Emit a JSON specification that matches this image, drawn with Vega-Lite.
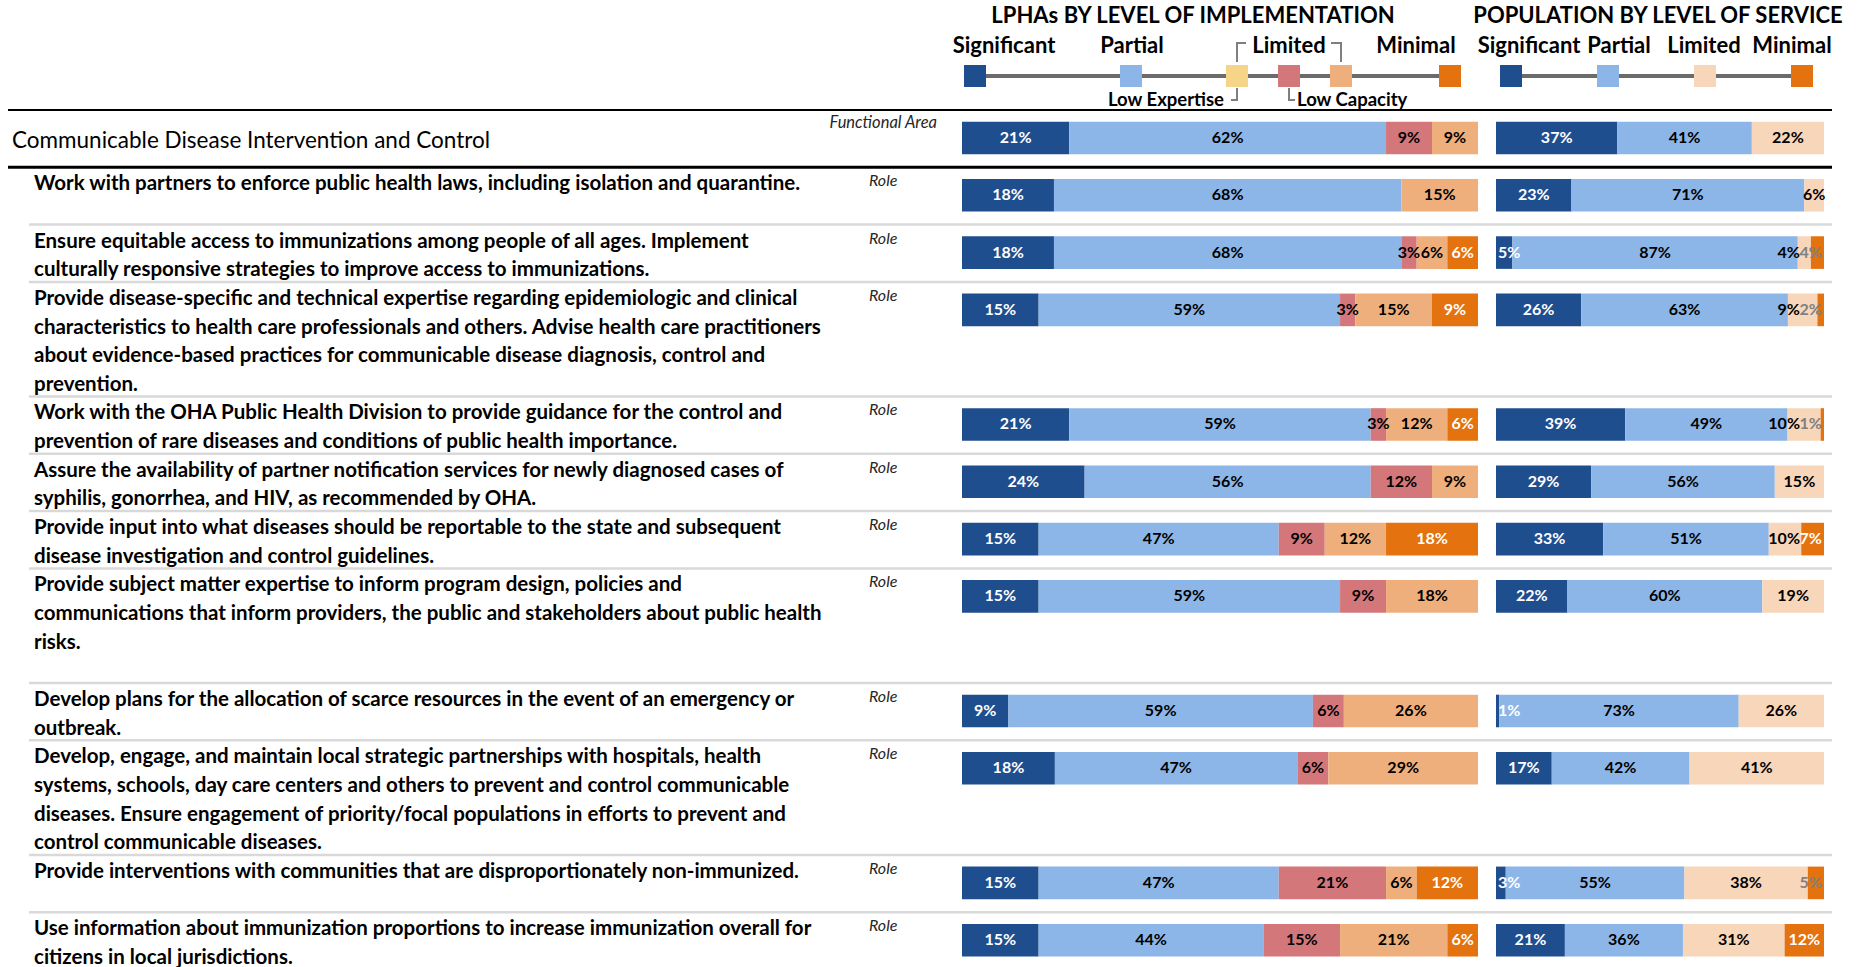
{
  "$schema": "https://vega.github.io/schema/vega-lite/v6.json",
  "width": 1862,
  "height": 967,
  "autosize": "none",
  "padding": 0,
  "background": "white",
  "config": {"view": {"stroke": null}, "font": "Lato", "text": {"font": "Lato"}},
  "datasets": {
    "rows": [
      {"id": 0, "label": ["Communicable Disease Intervention and Control"], "lpha": {"Significant": 21, "Partial": 62, "Low Capacity": 9, "Limited": 9}, "pop": {"Significant": 37, "Partial": 41, "Limited": 22}},
      {"id": 1, "label": ["Work with partners to enforce public health laws, including isolation and quarantine."], "lpha": {"Significant": 18, "Partial": 68, "Limited": 15}, "pop": {"Significant": 23, "Partial": 71, "Limited": 6}},
      {"id": 2, "label": ["Ensure equitable access to immunizations among people of all ages. Implement", "culturally responsive strategies to improve access to immunizations."], "lpha": {"Significant": 18, "Partial": 68, "Low Capacity": 3, "Limited": 6, "Minimal": 6}, "pop": {"Significant": 5, "Partial": 87, "Limited": 4, "Minimal": 4}},
      {"id": 3, "label": ["Provide disease-specific and technical expertise regarding epidemiologic and clinical", "characteristics to health care professionals and others. Advise health care practitioners", "about evidence-based practices for communicable disease diagnosis, control and", "prevention."], "lpha": {"Significant": 15, "Partial": 59, "Low Capacity": 3, "Limited": 15, "Minimal": 9}, "pop": {"Significant": 26, "Partial": 63, "Limited": 9, "Minimal": 2}},
      {"id": 4, "label": ["Work with the OHA Public Health Division to provide guidance for the control and", "prevention of rare diseases and conditions of public health importance."], "lpha": {"Significant": 21, "Partial": 59, "Low Capacity": 3, "Limited": 12, "Minimal": 6}, "pop": {"Significant": 39, "Partial": 49, "Limited": 10, "Minimal": 1}},
      {"id": 5, "label": ["Assure the availability of partner notification services for newly diagnosed cases of", "syphilis, gonorrhea, and HIV, as recommended by OHA."], "lpha": {"Significant": 24, "Partial": 56, "Low Capacity": 12, "Limited": 9}, "pop": {"Significant": 29, "Partial": 56, "Limited": 15}},
      {"id": 6, "label": ["Provide input into what diseases should be reportable to the state and subsequent", "disease investigation and control guidelines."], "lpha": {"Significant": 15, "Partial": 47, "Low Capacity": 9, "Limited": 12, "Minimal": 18}, "pop": {"Significant": 33, "Partial": 51, "Limited": 10, "Minimal": 7}},
      {"id": 7, "label": ["Provide subject matter expertise to inform program design, policies and", "communications that inform providers, the public and stakeholders about public health", "risks.", ""], "lpha": {"Significant": 15, "Partial": 59, "Low Capacity": 9, "Limited": 18}, "pop": {"Significant": 22, "Partial": 60, "Limited": 19}},
      {"id": 8, "label": ["Develop plans for the allocation of scarce resources in the event of an emergency or", "outbreak."], "lpha": {"Significant": 9, "Partial": 59, "Low Capacity": 6, "Limited": 26}, "pop": {"Significant": 1, "Partial": 73, "Limited": 26}},
      {"id": 9, "label": ["Develop, engage, and maintain local strategic partnerships with hospitals, health", "systems, schools, day care centers and others to prevent and control communicable", "diseases. Ensure engagement of priority/focal populations in efforts to prevent and", "control communicable diseases."], "lpha": {"Significant": 18, "Partial": 47, "Low Capacity": 6, "Limited": 29}, "pop": {"Significant": 17, "Partial": 42, "Limited": 41}},
      {"id": 10, "label": ["Provide interventions with communities that are disproportionately non-immunized."], "lpha": {"Significant": 15, "Partial": 47, "Low Capacity": 21, "Limited": 6, "Minimal": 12}, "pop": {"Significant": 3, "Partial": 55, "Limited": 38, "Minimal": 5}},
      {"id": 11, "label": ["Use information about immunization proportions to increase immunization overall for", "citizens in local jurisdictions."], "lpha": {"Significant": 15, "Partial": 44, "Low Capacity": 15, "Limited": 21, "Minimal": 6}, "pop": {"Significant": 21, "Partial": 36, "Limited": 31, "Minimal": 12}}
    ],
    "lphaCats": [{"cat": "Significant"}, {"cat": "Partial"}, {"cat": "Low Expertise"}, {"cat": "Low Capacity"}, {"cat": "Limited"}, {"cat": "Minimal"}],
    "popCats": [{"cat": "Significant"}, {"cat": "Partial"}, {"cat": "Limited"}, {"cat": "Minimal"}]
  },
  "resolve": {"scale": {"x": "independent", "color": "independent"}},
  "layer": [
    {
      "data": {"name": "rows"},
      "transform": [
        {"calculate": "max(2, length(datum.label))", "as": "slots"},
        {"window": [{"op": "sum", "field": "slots", "as": "cum"}], "sort": [{"field": "id"}], "frame": [null, 0]},
        {"calculate": "datum.cum - datum.slots", "as": "start"}
      ],
      "encoding": {
        "y": {"field": "start", "type": "quantitative", "scale": {"domain": [-3.839, 29.913], "reverse": true, "nice": false, "zero": false}, "axis": null}
      },
      "layer": [
        {"transform": [{"filter": "datum.id >= 2"}], "mark": {"type": "rule", "color": "#d9d9d9", "strokeWidth": 2.5}, "encoding": {"x": {"value": 29}, "x2": {"value": 1832}}},
        {"transform": [{"filter": "datum.id == 0"}], "mark": {"type": "rule", "color": "#000000", "strokeWidth": 2}, "encoding": {"x": {"value": 8}, "x2": {"value": 1832}}},
        {"transform": [{"filter": "datum.id == 1"}], "mark": {"type": "rule", "color": "#000000", "strokeWidth": 3}, "encoding": {"x": {"value": 8}, "x2": {"value": 1832}}},
        {"transform": [{"filter": "datum.id == 0"}], "mark": {"type": "text", "align": "left", "baseline": "alphabetic", "dy": 38.5, "fontSize": 22.5, "fontWeight": "normal", "color": "#000000"}, "encoding": {"x": {"value": 12}, "text": {"field": "label", "type": "nominal"}}},
        {"transform": [{"filter": "datum.id == 0"}], "mark": {"type": "text", "align": "right", "baseline": "alphabetic", "dy": 18, "fontSize": 16.5, "fontStyle": "italic", "color": "#262626"}, "encoding": {"x": {"value": 937}, "text": {"value": "Functional Area"}}},
        {"transform": [{"filter": "datum.id >= 1"}], "mark": {"type": "text", "align": "left", "baseline": "alphabetic", "dy": 23, "fontSize": 20.5, "fontWeight": "bold", "lineHeight": 28.65, "color": "#000000"}, "encoding": {"x": {"value": 34}, "text": {"field": "label", "type": "nominal"}}},
        {"transform": [{"filter": "datum.id >= 1"}], "mark": {"type": "text", "align": "left", "baseline": "alphabetic", "dy": 19, "fontSize": 16, "fontStyle": "italic", "color": "#262626"}, "encoding": {"x": {"value": 869}, "text": {"value": "Role"}}}
      ]
    },
    {
      "data": {"name": "rows"},
      "transform": [
        {"calculate": "max(2, length(datum.label))", "as": "slots"},
        {"window": [{"op": "sum", "field": "slots", "as": "cum"}], "sort": [{"field": "id"}], "frame": [null, 0]},
        {"calculate": "datum.cum - datum.slots", "as": "start"},
        {"fold": ["lpha.Significant", "lpha.Partial", "lpha.Low Expertise", "lpha.Low Capacity", "lpha.Limited", "lpha.Minimal"], "as": ["key", "v"]},
        {"filter": "isValid(datum.v) && datum.v > 0"},
        {"calculate": "slice(datum.key, 5)", "as": "cat"},
        {"calculate": "indexof(['Significant','Partial','Low Expertise','Low Capacity','Limited','Minimal'], datum.cat)", "as": "ord"},
        {"stack": "v", "groupby": ["id"], "sort": [{"field": "ord", "order": "ascending"}], "offset": "normalize", "as": ["x0", "x1"]},
        {"calculate": "(datum.x0 + datum.x1) / 2", "as": "xm"},
        {"calculate": "datum.start + 0.408", "as": "y0"},
        {"calculate": "datum.start + 1.546", "as": "y1"},
        {"calculate": "datum.start + 0.977", "as": "ym"},
        {"calculate": "datum.v + '%'", "as": "lab"}
      ],
      "layer": [
        {
          "mark": {"type": "rect"},
          "encoding": {
            "x": {"field": "x0", "type": "quantitative", "scale": {"domain": [0, 1], "range": [962, 1478], "nice": false, "zero": false}, "axis": null},
            "x2": {"field": "x1"},
            "y": {"field": "y0", "type": "quantitative", "scale": {"domain": [-3.839, 29.913], "reverse": true, "nice": false, "zero": false}, "axis": null},
            "y2": {"field": "y1"},
            "color": {"field": "cat", "type": "nominal", "scale": {"domain": ["Significant", "Partial", "Low Expertise", "Low Capacity", "Limited", "Minimal"], "range": ["#1f4e8f", "#8db6e8", "#f6d488", "#d4777b", "#efaf7c", "#e3720f"]}, "legend": null}
          }
        },
        {
          "mark": {"type": "text", "align": "center", "baseline": "middle", "fontSize": 16, "fontWeight": "bold"},
          "encoding": {
            "x": {"field": "xm", "type": "quantitative", "scale": {"domain": [0, 1], "range": [962, 1478], "nice": false, "zero": false}, "axis": null},
            "y": {"field": "ym", "type": "quantitative", "scale": {"domain": [-3.839, 29.913], "reverse": true, "nice": false, "zero": false}, "axis": null},
            "text": {"field": "lab", "type": "nominal"},
            "color": {"condition": {"test": "datum.cat == 'Significant' || datum.cat == 'Minimal'", "value": "#ffffff"}, "value": "#000000"}
          }
        }
      ]
    },
    {
      "data": {"name": "rows"},
      "transform": [
        {"calculate": "max(2, length(datum.label))", "as": "slots"},
        {"window": [{"op": "sum", "field": "slots", "as": "cum"}], "sort": [{"field": "id"}], "frame": [null, 0]},
        {"calculate": "datum.cum - datum.slots", "as": "start"},
        {"fold": ["pop.Significant", "pop.Partial", "pop.Limited", "pop.Minimal"], "as": ["key", "v"]},
        {"filter": "isValid(datum.v) && datum.v > 0"},
        {"calculate": "slice(datum.key, 4)", "as": "cat"},
        {"calculate": "indexof(['Significant','Partial','Limited','Minimal'], datum.cat)", "as": "ord"},
        {"calculate": "datum.cat == 'Minimal' ? datum.v : 0", "as": "minv"},
        {"joinaggregate": [{"op": "max", "field": "minv", "as": "rowMin"}], "groupby": ["id"]},
        {"stack": "v", "groupby": ["id"], "sort": [{"field": "ord", "order": "ascending"}], "offset": "normalize", "as": ["x0", "x1"]},
        {"calculate": "(datum.x0 + datum.x1) / 2", "as": "xm"},
        {"calculate": "datum.start + 0.408", "as": "y0"},
        {"calculate": "datum.start + 1.546", "as": "y1"},
        {"calculate": "datum.start + 0.977", "as": "ym"},
        {"calculate": "datum.v + '%'", "as": "lab"},
        {"calculate": "datum.cat == 'Significant' && datum.v < 7 ? 'start' : (datum.cat == 'Minimal' && datum.v <= 7 ? 'end' : (datum.cat == 'Limited' && datum.v <= 10 && datum.rowMin > 0 && datum.rowMin <= 7 ? 'beforeEnd' : 'center'))", "as": "place"}
      ],
      "layer": [
        {
          "mark": {"type": "rect"},
          "encoding": {
            "x": {"field": "x0", "type": "quantitative", "scale": {"domain": [0, 1], "range": [1496, 1824], "nice": false, "zero": false}, "axis": null},
            "x2": {"field": "x1"},
            "y": {"field": "y0", "type": "quantitative", "scale": {"domain": [-3.839, 29.913], "reverse": true, "nice": false, "zero": false}, "axis": null},
            "y2": {"field": "y1"},
            "color": {"field": "cat", "type": "nominal", "scale": {"domain": ["Significant", "Partial", "Limited", "Minimal"], "range": ["#1f4e8f", "#8db6e8", "#f8d6ba", "#e3720f"]}, "legend": null}
          }
        },
        {
          "transform": [{"filter": "datum.place == 'center'"}],
          "mark": {"type": "text", "align": "center", "baseline": "middle", "fontSize": 16, "fontWeight": "bold"},
          "encoding": {
            "x": {"field": "xm", "type": "quantitative", "scale": {"domain": [0, 1], "range": [1496, 1824], "nice": false, "zero": false}, "axis": null},
            "y": {"field": "ym", "type": "quantitative", "scale": {"domain": [-3.839, 29.913], "reverse": true, "nice": false, "zero": false}, "axis": null},
            "text": {"field": "lab", "type": "nominal"},
            "color": {"condition": {"test": "datum.cat == 'Significant' || datum.cat == 'Minimal'", "value": "#ffffff"}, "value": "#000000"}
          }
        },
        {
          "transform": [{"filter": "datum.place == 'start'"}],
          "mark": {"type": "text", "align": "left", "baseline": "middle", "fontSize": 16, "fontWeight": "bold", "dx": 2, "color": "#ffffff"},
          "encoding": {
            "x": {"field": "x0", "type": "quantitative", "scale": {"domain": [0, 1], "range": [1496, 1824], "nice": false, "zero": false}, "axis": null},
            "y": {"field": "ym", "type": "quantitative", "scale": {"domain": [-3.839, 29.913], "reverse": true, "nice": false, "zero": false}, "axis": null},
            "text": {"field": "lab", "type": "nominal"}
          }
        },
        {
          "transform": [{"filter": "datum.place == 'end'"}],
          "mark": {"type": "text", "align": "right", "baseline": "middle", "fontSize": 16, "fontWeight": "bold", "dx": -2},
          "encoding": {
            "x": {"field": "x1", "type": "quantitative", "scale": {"domain": [0, 1], "range": [1496, 1824], "nice": false, "zero": false}, "axis": null},
            "y": {"field": "ym", "type": "quantitative", "scale": {"domain": [-3.839, 29.913], "reverse": true, "nice": false, "zero": false}, "axis": null},
            "text": {"field": "lab", "type": "nominal"},
            "color": {"condition": {"test": "datum.v > 5", "value": "#ffffff"}, "value": "#808080"}
          }
        },
        {
          "transform": [{"filter": "datum.place == 'beforeEnd'"}],
          "mark": {"type": "text", "align": "right", "baseline": "middle", "fontSize": 16, "fontWeight": "bold", "dx": -24, "color": "#000000"},
          "encoding": {
            "x": {"datum": 1, "type": "quantitative", "scale": {"domain": [0, 1], "range": [1496, 1824], "nice": false, "zero": false}, "axis": null},
            "y": {"field": "ym", "type": "quantitative", "scale": {"domain": [-3.839, 29.913], "reverse": true, "nice": false, "zero": false}, "axis": null},
            "text": {"field": "lab", "type": "nominal"}
          }
        }
      ]
    },
    {
      "data": {"name": "lphaCats"},
      "transform": [{"calculate": "indexof(['Significant','Partial','Low Expertise','Low Capacity','Limited','Minimal'], datum.cat)", "as": "ord"}],
      "layer": [
        {
          "mark": {"type": "rule", "color": "#6b6b6b", "strokeWidth": 4},
          "encoding": {
            "x": {"aggregate": "min", "field": "ord", "type": "quantitative", "scale": {"domain": [0, 1, 2, 3, 4, 5], "range": [975, 1131, 1237, 1289, 1341, 1450], "nice": false, "zero": false}, "axis": null},
            "x2": {"aggregate": "max", "field": "ord"},
            "y": {"value": 76}
          }
        },
        {
          "mark": {"type": "square", "size": 484, "filled": true, "opacity": 1},
          "encoding": {
            "x": {"field": "ord", "type": "quantitative", "scale": {"domain": [0, 1, 2, 3, 4, 5], "range": [975, 1131, 1237, 1289, 1341, 1450], "nice": false, "zero": false}, "axis": null},
            "y": {"value": 76},
            "color": {"field": "cat", "type": "nominal", "scale": {"domain": ["Significant", "Partial", "Low Expertise", "Low Capacity", "Limited", "Minimal"], "range": ["#1f4e8f", "#8db6e8", "#f6d488", "#d4777b", "#efaf7c", "#e3720f"]}, "legend": null}
          }
        }
      ]
    },
    {
      "data": {"name": "popCats"},
      "transform": [{"calculate": "indexof(['Significant','Partial','Limited','Minimal'], datum.cat)", "as": "ord"}],
      "layer": [
        {
          "mark": {"type": "rule", "color": "#6b6b6b", "strokeWidth": 4},
          "encoding": {
            "x": {"aggregate": "min", "field": "ord", "type": "quantitative", "scale": {"domain": [0, 3], "range": [1511, 1802], "nice": false, "zero": false}, "axis": null},
            "x2": {"aggregate": "max", "field": "ord"},
            "y": {"value": 76}
          }
        },
        {
          "mark": {"type": "square", "size": 484, "filled": true, "opacity": 1},
          "encoding": {
            "x": {"field": "ord", "type": "quantitative", "scale": {"domain": [0, 3], "range": [1511, 1802], "nice": false, "zero": false}, "axis": null},
            "y": {"value": 76},
            "color": {"field": "cat", "type": "nominal", "scale": {"domain": ["Significant", "Partial", "Limited", "Minimal"], "range": ["#1f4e8f", "#8db6e8", "#f8d6ba", "#e3720f"]}, "legend": null}
          }
        }
      ]
    },
    {"data": {"values": [{}]}, "mark": {"type": "text", "align": "center", "baseline": "alphabetic", "fontSize": 22, "fontWeight": "bold", "color": "#000000"}, "encoding": {"x": {"value": 1193}, "y": {"value": 23}, "text": {"value": "LPHAs BY LEVEL OF IMPLEMENTATION"}}},
    {"data": {"values": [{}]}, "mark": {"type": "text", "align": "center", "baseline": "alphabetic", "fontSize": 22, "fontWeight": "bold", "color": "#000000"}, "encoding": {"x": {"value": 1658}, "y": {"value": 23}, "text": {"value": "POPULATION BY LEVEL OF SERVICE"}}},
    {"data": {"values": [{}]}, "mark": {"type": "text", "align": "center", "baseline": "alphabetic", "fontSize": 22, "fontWeight": "bold", "color": "#000000"}, "encoding": {"x": {"value": 1004}, "y": {"value": 53}, "text": {"value": "Significant"}}},
    {"data": {"values": [{}]}, "mark": {"type": "text", "align": "center", "baseline": "alphabetic", "fontSize": 22, "fontWeight": "bold", "color": "#000000"}, "encoding": {"x": {"value": 1132}, "y": {"value": 53}, "text": {"value": "Partial"}}},
    {"data": {"values": [{}]}, "mark": {"type": "text", "align": "center", "baseline": "alphabetic", "fontSize": 22, "fontWeight": "bold", "color": "#000000"}, "encoding": {"x": {"value": 1289}, "y": {"value": 53}, "text": {"value": "Limited"}}},
    {"data": {"values": [{}]}, "mark": {"type": "text", "align": "center", "baseline": "alphabetic", "fontSize": 22, "fontWeight": "bold", "color": "#000000"}, "encoding": {"x": {"value": 1416}, "y": {"value": 53}, "text": {"value": "Minimal"}}},
    {"data": {"values": [{}]}, "mark": {"type": "text", "align": "center", "baseline": "alphabetic", "fontSize": 22, "fontWeight": "bold", "color": "#000000"}, "encoding": {"x": {"value": 1529}, "y": {"value": 53}, "text": {"value": "Significant"}}},
    {"data": {"values": [{}]}, "mark": {"type": "text", "align": "center", "baseline": "alphabetic", "fontSize": 22, "fontWeight": "bold", "color": "#000000"}, "encoding": {"x": {"value": 1619}, "y": {"value": 53}, "text": {"value": "Partial"}}},
    {"data": {"values": [{}]}, "mark": {"type": "text", "align": "center", "baseline": "alphabetic", "fontSize": 22, "fontWeight": "bold", "color": "#000000"}, "encoding": {"x": {"value": 1704}, "y": {"value": 53}, "text": {"value": "Limited"}}},
    {"data": {"values": [{}]}, "mark": {"type": "text", "align": "center", "baseline": "alphabetic", "fontSize": 22, "fontWeight": "bold", "color": "#000000"}, "encoding": {"x": {"value": 1792}, "y": {"value": 53}, "text": {"value": "Minimal"}}},
    {"data": {"values": [{}]}, "mark": {"type": "text", "align": "right", "baseline": "alphabetic", "fontSize": 18.5, "fontWeight": "bold", "color": "#000000"}, "encoding": {"x": {"value": 1224}, "y": {"value": 106}, "text": {"value": "Low Expertise"}}},
    {"data": {"values": [{}]}, "mark": {"type": "text", "align": "left", "baseline": "alphabetic", "fontSize": 18.5, "fontWeight": "bold", "color": "#000000"}, "encoding": {"x": {"value": 1297}, "y": {"value": 106}, "text": {"value": "Low Capacity"}}},
    {"data": {"values": [{}]}, "mark": {"type": "rule", "color": "#7f7f7f", "strokeWidth": 2}, "encoding": {"x": {"value": 1237}, "y": {"value": 43}, "y2": {"value": 62}}},
    {"data": {"values": [{}]}, "mark": {"type": "rule", "color": "#7f7f7f", "strokeWidth": 2}, "encoding": {"x": {"value": 1236}, "x2": {"value": 1246}, "y": {"value": 43}}},
    {"data": {"values": [{}]}, "mark": {"type": "rule", "color": "#7f7f7f", "strokeWidth": 2}, "encoding": {"x": {"value": 1341}, "y": {"value": 43}, "y2": {"value": 62}}},
    {"data": {"values": [{}]}, "mark": {"type": "rule", "color": "#7f7f7f", "strokeWidth": 2}, "encoding": {"x": {"value": 1331}, "x2": {"value": 1342}, "y": {"value": 43}}},
    {"data": {"values": [{}]}, "mark": {"type": "rule", "color": "#7f7f7f", "strokeWidth": 2}, "encoding": {"x": {"value": 1237}, "y": {"value": 88}, "y2": {"value": 100}}},
    {"data": {"values": [{}]}, "mark": {"type": "rule", "color": "#7f7f7f", "strokeWidth": 2}, "encoding": {"x": {"value": 1231}, "x2": {"value": 1238}, "y": {"value": 100}}},
    {"data": {"values": [{}]}, "mark": {"type": "rule", "color": "#7f7f7f", "strokeWidth": 2}, "encoding": {"x": {"value": 1289}, "y": {"value": 88}, "y2": {"value": 100}}},
    {"data": {"values": [{}]}, "mark": {"type": "rule", "color": "#7f7f7f", "strokeWidth": 2}, "encoding": {"x": {"value": 1288}, "x2": {"value": 1295}, "y": {"value": 100}}}
  ]
}
